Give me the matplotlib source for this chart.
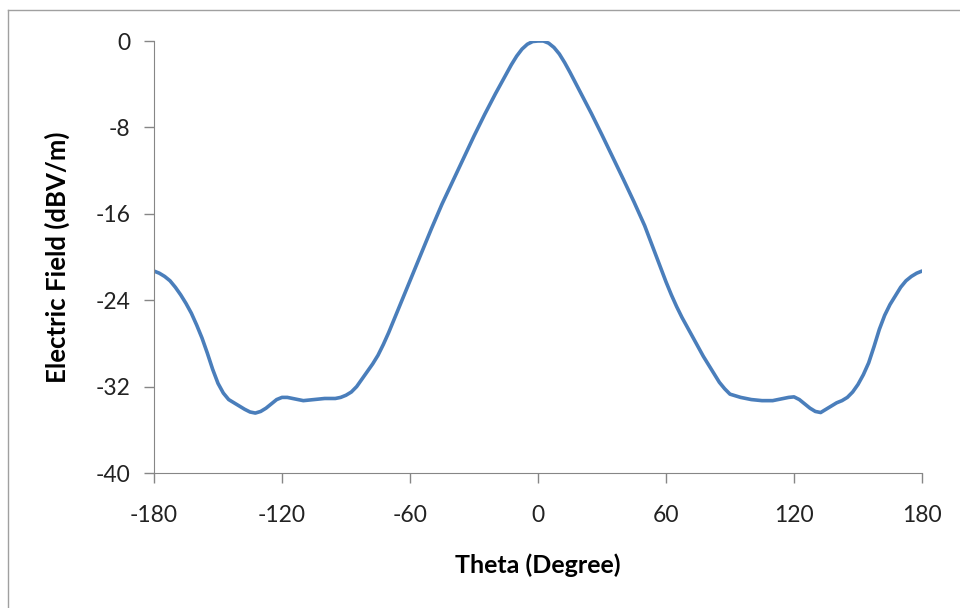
import matplotlib.pyplot as plt
from matplotlib.lines import Line2D

theta = [-180, -177.5, -175, -172.5, -170, -167.5, -165, -162.5, -160, -157.5, -155, -152.5,
         -150, -147.5, -145, -142.5, -140, -137.5, -135, -132.5, -130, -127.5, -125, -122.5,
         -120, -117.5, -115, -110, -105, -100, -95, -92.5, -90, -87.5, -85, -82.5,
         -80, -77.5, -75, -72.5, -70, -67.5, -65, -62.5, -60, -55, -50, -45, -40,
         -35, -30, -25, -20, -15, -12.5, -10, -7.5, -5, -2.5, 0, 2.5, 5, 7.5, 10,
         12.5, 15, 20, 25, 30, 35, 40, 45, 50, 55, 60, 62.5, 65, 67.5, 70, 72.5,
         75, 77.5, 80, 82.5, 85, 87.5, 90, 95, 100, 105, 110, 115, 117.5, 120,
         122.5, 125, 127.5, 130, 132.5, 135, 137.5, 140, 142.5, 145, 147.5, 150,
         152.5, 155, 157.5, 160, 162.5, 165, 167.5, 170, 172.5, 175, 177.5, 180]
field = [-21.3, -21.5, -21.8, -22.2, -22.8, -23.5, -24.3, -25.2, -26.3, -27.5, -28.9, -30.4,
         -31.7, -32.6, -33.2, -33.5, -33.8, -34.1, -34.35, -34.45, -34.3, -34.0, -33.6, -33.2,
         -33.0, -33.0, -33.1, -33.3, -33.2, -33.1, -33.1, -33.0, -32.8, -32.5, -32.0, -31.3,
         -30.6, -29.9, -29.1, -28.1, -27.0, -25.8, -24.6, -23.4, -22.2, -19.8, -17.4, -15.1, -13.0,
         -10.9, -8.8, -6.8, -4.9, -3.1, -2.2, -1.4, -0.75, -0.3, -0.05, 0.0, 0.0, -0.2, -0.6, -1.2,
         -2.0, -2.9, -4.8, -6.7, -8.7, -10.75, -12.8, -14.9, -17.1, -19.7, -22.3, -23.5, -24.6, -25.6, -26.5, -27.4,
         -28.3, -29.2, -30.0, -30.8, -31.6, -32.2, -32.7, -33.0, -33.2, -33.3, -33.3, -33.1, -33.0, -32.95,
         -33.2, -33.6, -34.0, -34.3, -34.4, -34.1, -33.8, -33.5, -33.3, -33.0, -32.5, -31.8,
         -30.9, -29.8, -28.3, -26.7, -25.4, -24.4, -23.6, -22.8, -22.2, -21.8, -21.5, -21.3]
xticks = [-180, -120, -60, 0, 60, 120, 180]
yticks = [0, -8, -16, -24, -32, -40]

plt.rcParams['font.family'] = ['Lato', 'DejaVu Sans']
plt.rcParams['axes.unicode_minus'] = False
fig = plt.figure(figsize=(9.6, 6.08), dpi=100)
ax = fig.add_axes([154 / 960, 1 - 473 / 608, (922 - 154) / 960, (473 - 41) / 608])

ax.plot(theta, field, color='#4a7ebb', lw=2.6, solid_capstyle='round', solid_joinstyle='round')

ax.set_xlim(-180, 180)
ax.set_ylim(-40, 0)
ax.set_xticks(xticks)
ax.set_yticks(yticks)
ax.tick_params(axis='both', direction='out', length=7, width=1, color='#868686',
               labelsize=16.5, labelcolor='#222222')
ax.tick_params(axis='x', pad=16)
ax.tick_params(axis='y', pad=10)
for s in ['top', 'right']:
    ax.spines[s].set_visible(False)
for s in ['left', 'bottom']:
    ax.spines[s].set_color('#868686')

ax.set_xlabel('Theta (Degree)', fontsize=18, fontweight='bold', labelpad=20)
ax.set_ylabel('Electric Field (dBV/m)', fontsize=18.5, fontweight='bold', labelpad=18)

# outer chart border (left and top edges visible)
fig.add_artist(Line2D([8 / 960, 8 / 960], [0, 1 - 10 / 608], color='#a0a0a0', lw=1))
fig.add_artist(Line2D([8 / 960, 1], [1 - 10 / 608, 1 - 10 / 608], color='#a0a0a0', lw=1))

fig.savefig('out.png', dpi=100)
